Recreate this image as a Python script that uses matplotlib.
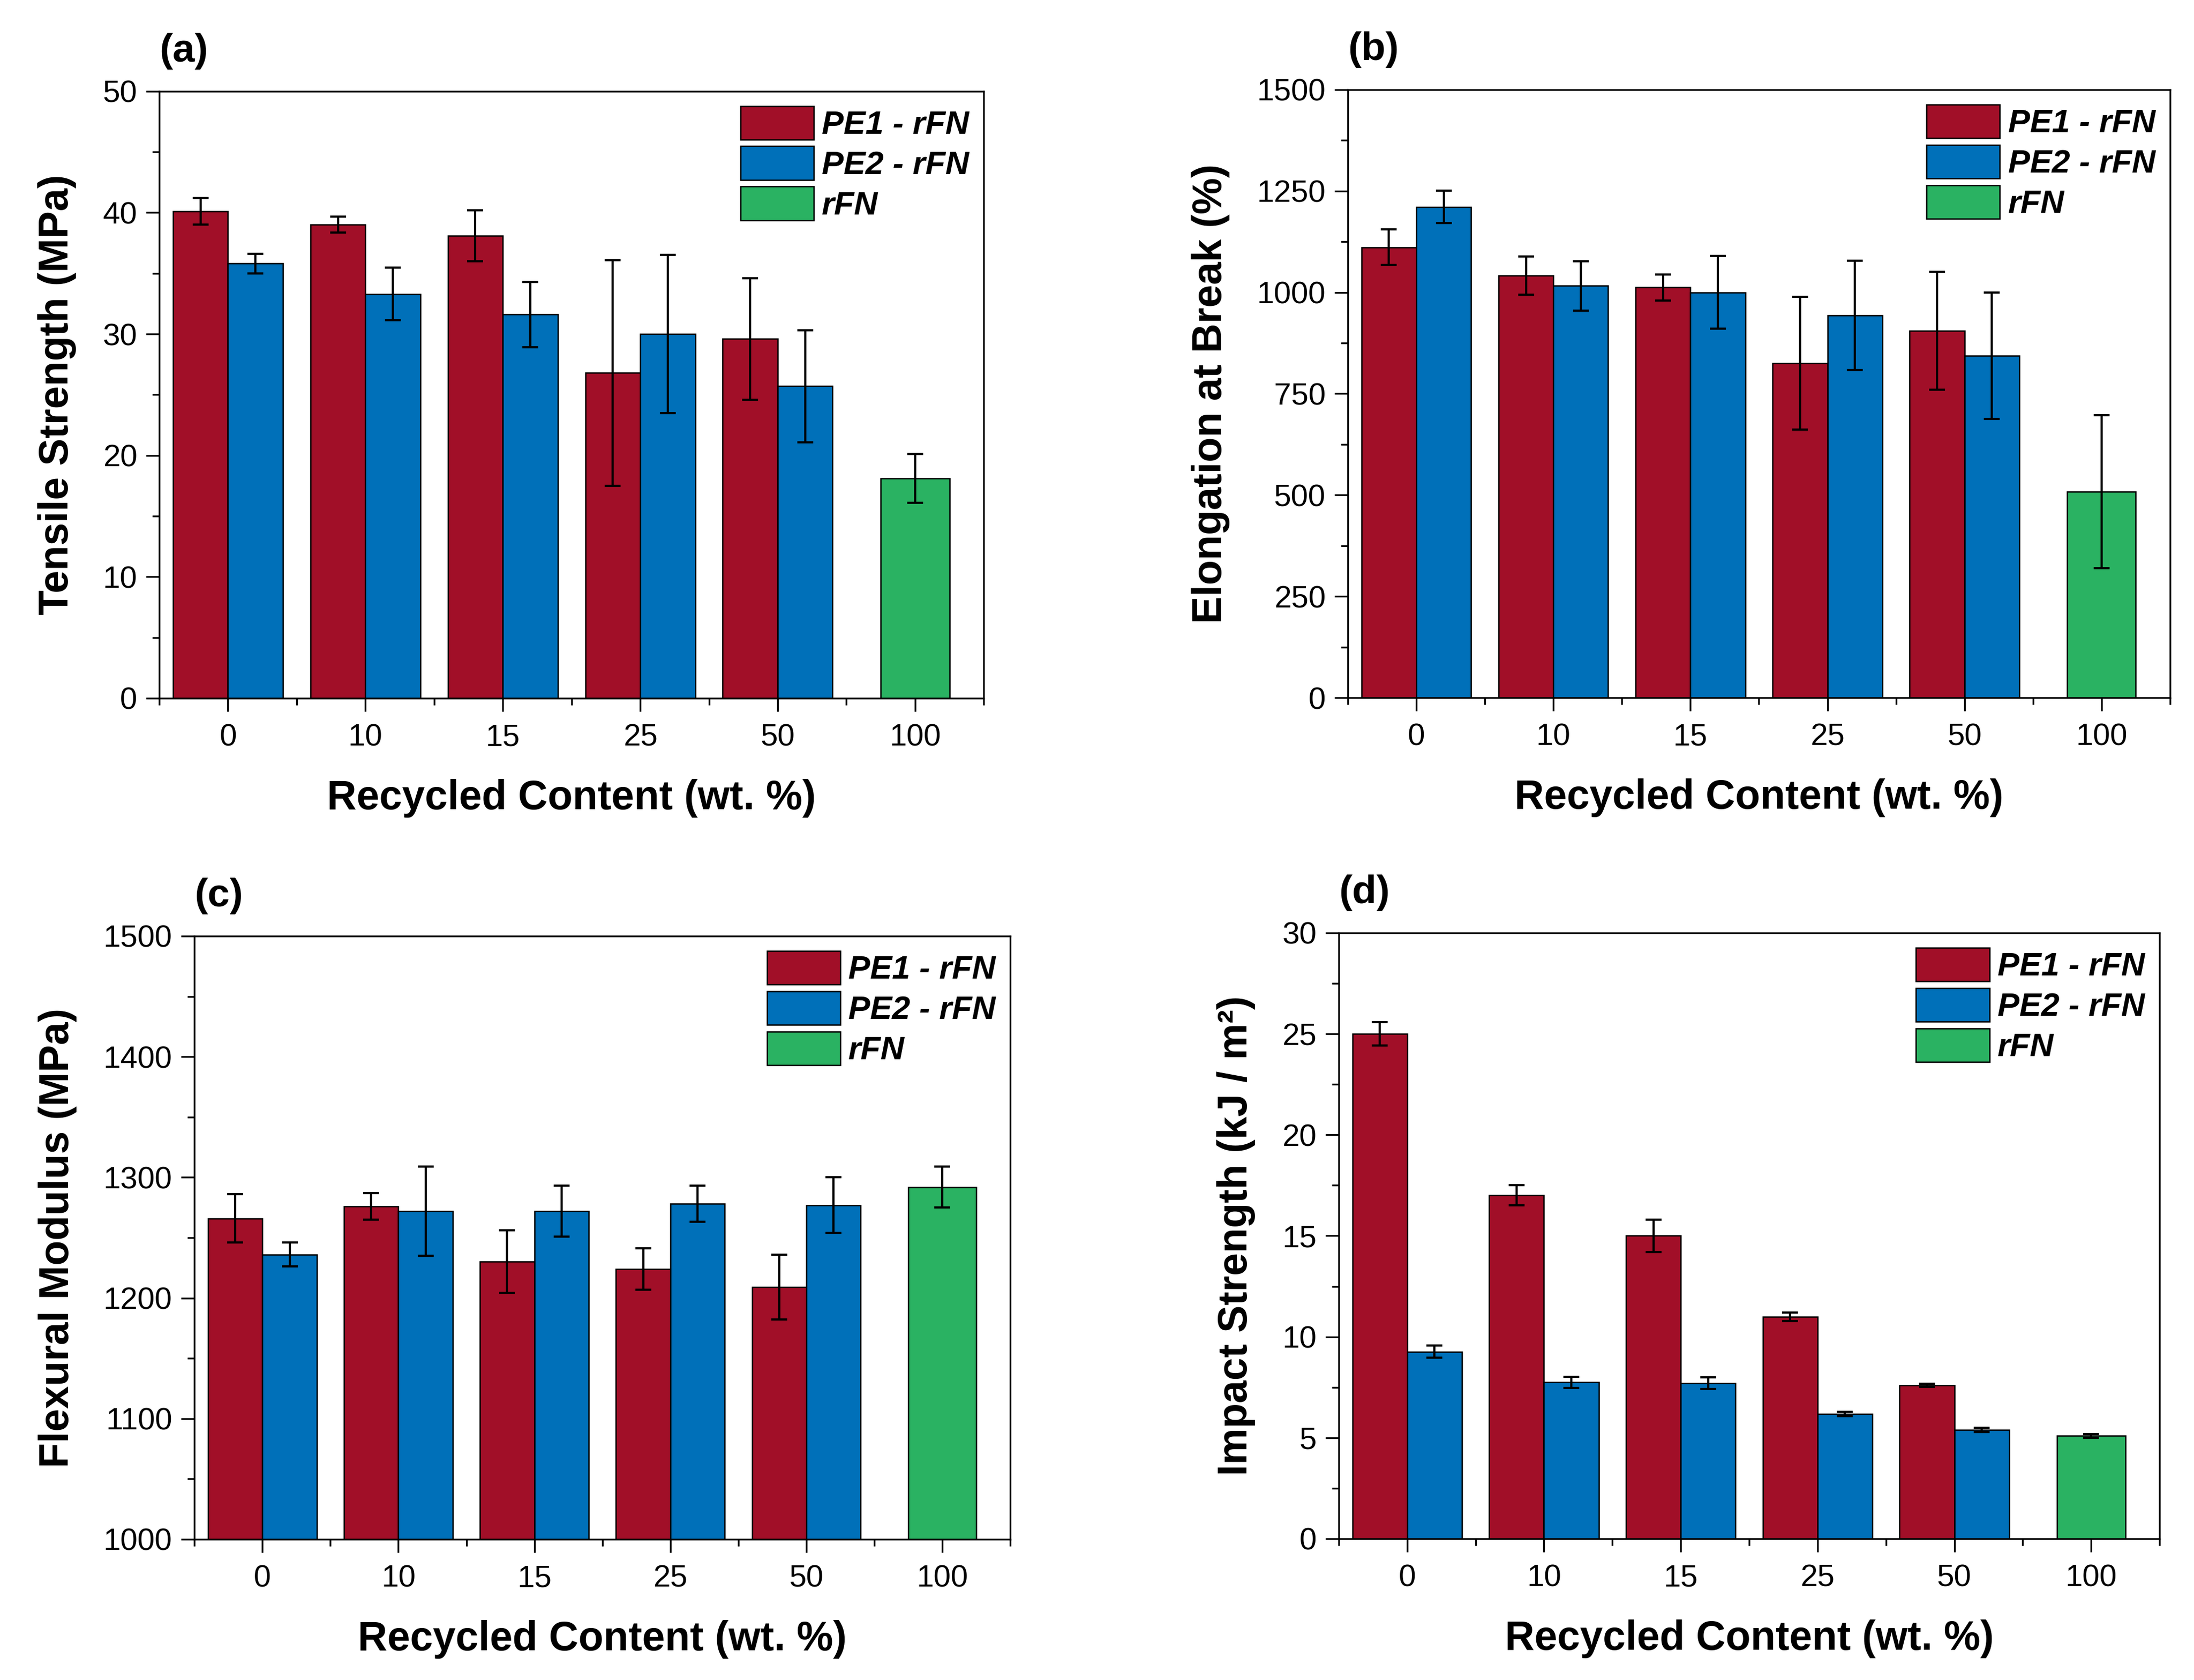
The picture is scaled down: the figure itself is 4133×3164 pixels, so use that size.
import matplotlib
matplotlib.use('Agg')
import matplotlib.pyplot as plt
import matplotlib.ticker as mticker
import numpy as np

plt.rcParams['font.family'] = ['Liberation Sans', 'DejaVu Sans']

# data
CATEGORIES = ['0', '10', '15', '25', '50', '100']

tensile_pe1 = [40.1, 39.0, 38.1, 26.8, 29.6]
tensile_pe1_err = [1.1, 0.65, 2.1, 9.3, 5.0]
tensile_pe2 = [35.8, 33.3, 31.6, 30.0, 25.7]
tensile_pe2_err = [0.8, 2.15, 2.7, 6.5, 4.6]
tensile_rfn = 18.1
tensile_rfn_err = 2.0

elong_pe1 = [1111, 1041, 1012, 825, 905]
elong_pe1_err = [44, 47, 32, 164, 145]
elong_pe2 = [1211, 1016, 1000, 943, 844]
elong_pe2_err = [40, 61, 90, 135, 156]
elong_rfn = 508
elong_rfn_err = 189

flex_pe1 = [1266, 1276, 1230, 1224, 1209]
flex_pe1_err = [20, 11, 26, 17, 27]
flex_pe2 = [1236, 1272, 1272, 1278, 1277]
flex_pe2_err = [10, 37, 21, 15, 23]
flex_rfn = 1292
flex_rfn_err = 17

impact_pe1 = [25.0, 17.0, 15.0, 11.0, 7.6]
impact_pe1_err = [0.58, 0.5, 0.8, 0.21, 0.08]
impact_pe2 = [9.26, 7.75, 7.7, 6.18, 5.38]
impact_pe2_err = [0.3, 0.28, 0.3, 0.1, 0.1]
impact_rfn = 5.09
impact_rfn_err = 0.1

RED = '#A10F28'
BLUE = '#0070B9'
GREEN = '#2AB262'


def draw_panel(ax, pe1, pe1_err, pe2, pe2_err, rfn, rfn_err, ylim, step, ylabel, tag):
    x = np.arange(len(pe1))
    w = 0.4
    ax.bar(x - w / 2, pe1, w, color=RED, edgecolor='black', linewidth=0.6,
           label='PE1 - rFN', zorder=2)
    ax.bar(x + w / 2, pe2, w, color=BLUE, edgecolor='black', linewidth=0.6,
           label='PE2 - rFN', zorder=2)
    ax.bar([len(pe1)], [rfn], 0.5, color=GREEN, edgecolor='black', linewidth=0.6,
           label='rFN', zorder=2)

    ekw = dict(fmt='none', ecolor='black', elinewidth=1.0, capsize=3.5, capthick=1.0, zorder=3)
    ax.errorbar(x - w / 2, pe1, yerr=pe1_err, **ekw)
    ax.errorbar(x + w / 2, pe2, yerr=pe2_err, **ekw)
    ax.errorbar([len(pe1)], [rfn], yerr=[rfn_err], **ekw)

    ax.set_xlim(-0.5, len(CATEGORIES) - 0.5)
    ax.set_ylim(*ylim)
    ax.set_xticks(np.arange(len(CATEGORIES)))
    ax.set_xticklabels(CATEGORIES)
    ax.xaxis.set_minor_locator(mticker.FixedLocator(np.arange(len(CATEGORIES) + 1) - 0.5))
    ax.yaxis.set_major_locator(mticker.MultipleLocator(step))
    ax.yaxis.set_minor_locator(mticker.MultipleLocator(step / 2))

    ax.tick_params(which='both', direction='out', top=False, right=False, width=0.8)
    ax.tick_params(which='major', length=6, labelsize=14)
    ax.tick_params(which='minor', length=3.2)
    ax.tick_params(axis='x', pad=5.5)
    ax.tick_params(axis='y', pad=4)
    for s in ax.spines.values():
        s.set_linewidth(0.8)

    ax.set_xlabel('Recycled Content (wt. %)', fontsize=18.5, fontweight='bold', labelpad=12)
    ax.set_ylabel(ylabel, fontsize=18.5, fontweight='bold', labelpad=12)

    ax.legend(loc='upper right', frameon=False,
              prop=dict(weight='bold', style='italic', size=14.8),
              handlelength=2.24, handleheight=1.2, labelspacing=0.17,
              handletextpad=0.25, borderpad=0, borderaxespad=0.45)

    ax.annotate(tag, xy=(0, 1), xycoords='axes fraction', xytext=(0, 18),
                textcoords='offset points', ha='left', va='center',
                fontsize=18, fontweight='bold')


fig = plt.figure(figsize=(4133 / 300, 3164 / 300), dpi=300)
ax_a = fig.add_axes([0.0726, 0.5844, 0.3758, 0.3613])
ax_b = fig.add_axes([0.6143, 0.5847, 0.3748, 0.3619])
ax_c = fig.add_axes([0.0886, 0.0838, 0.3719, 0.3590])
ax_d = fig.add_axes([0.6102, 0.0841, 0.3741, 0.3606])

draw_panel(ax_a, tensile_pe1, tensile_pe1_err, tensile_pe2, tensile_pe2_err,
           tensile_rfn, tensile_rfn_err, (0, 50), 10, 'Tensile Strength (MPa)', '(a)')
draw_panel(ax_b, elong_pe1, elong_pe1_err, elong_pe2, elong_pe2_err,
           elong_rfn, elong_rfn_err, (0, 1500), 250, 'Elongation at Break (%)', '(b)')
draw_panel(ax_c, flex_pe1, flex_pe1_err, flex_pe2, flex_pe2_err,
           flex_rfn, flex_rfn_err, (1000, 1500), 100, 'Flexural Modulus (MPa)', '(c)')
draw_panel(ax_d, impact_pe1, impact_pe1_err, impact_pe2, impact_pe2_err,
           impact_rfn, impact_rfn_err, (0, 30), 5, 'Impact Strength (kJ / m²)', '(d)')

fig.savefig('out.png', dpi=300, facecolor='white')
